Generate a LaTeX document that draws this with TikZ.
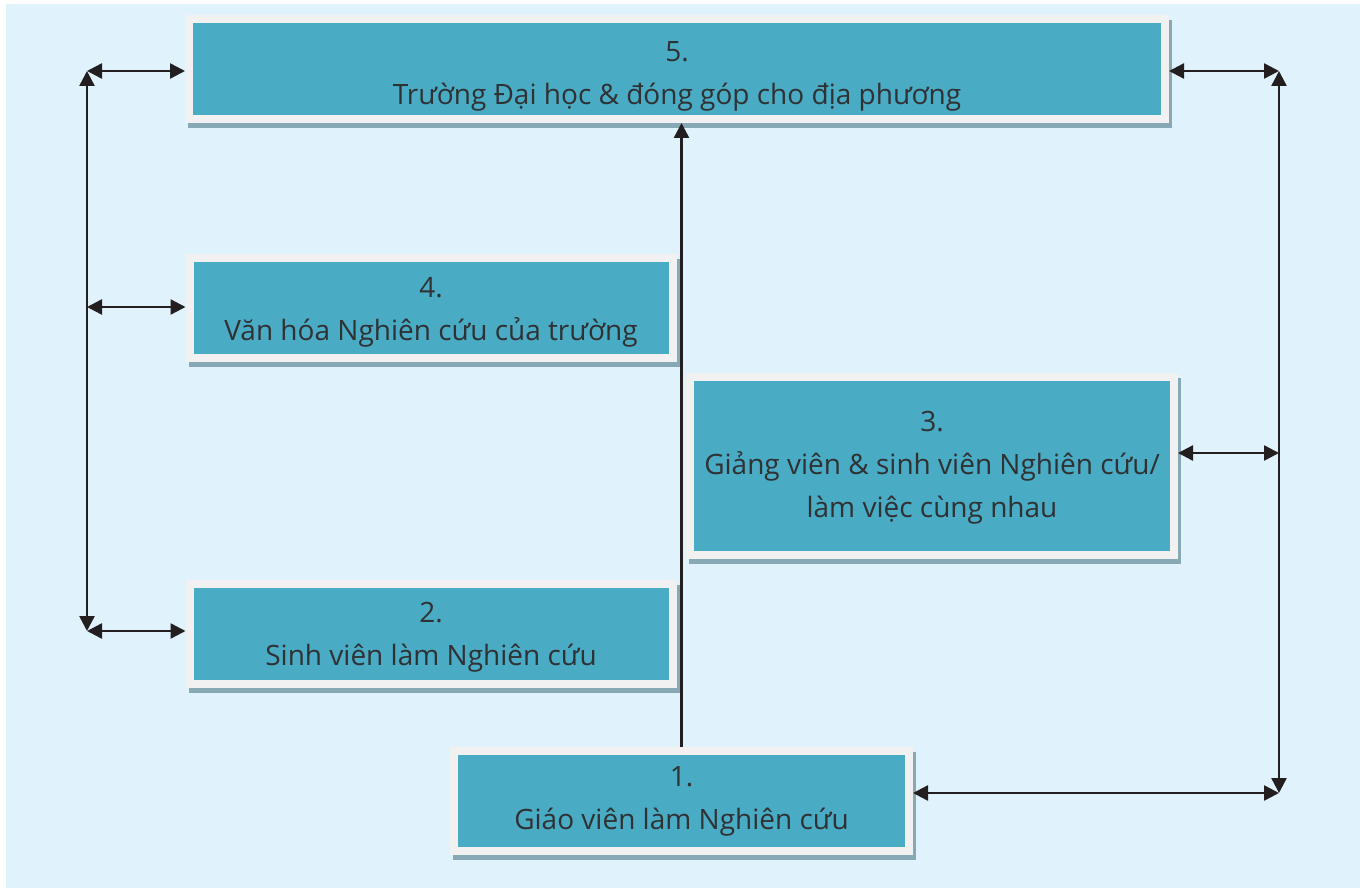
\documentclass[tikz,border=0pt]{standalone}
\usepackage{fontspec}
\setmainfont{Open Sans}
\usetikzlibrary{arrows.meta,shadows}
\definecolor{bgc}{HTML}{E0F2FC}
\definecolor{tealc}{HTML}{4AABC5}
\definecolor{framec}{HTML}{F1F1F1}
\definecolor{shadc}{HTML}{86A9B5}
\definecolor{ink}{HTML}{231F20}
\definecolor{txt}{HTML}{2F3133}
\begin{document}
\begin{tikzpicture}[x=1pt,y=-1pt,
  box/.style={fill=tealc, draw=framec, line width=8pt, inner sep=0pt, minimum height=100pt,
    general shadow={fill=shadc, draw=shadc, line width=8pt, shadow xshift=3pt, shadow yshift=-5pt}},
  lbl/.style={align=center, text=txt, font=\fontsize{28}{43}\selectfont, inner sep=0pt},
  link/.style={draw=ink, line width=2.5pt, arrows={Triangle[length=15pt,width=15pt]-Triangle[length=15pt,width=15pt]}},
  uplink/.style={draw=ink, line width=2.5pt, arrows={-Triangle[length=15pt,width=15pt]}}]
\useasboundingbox (0,0) rectangle (1363,888);
\fill[bgc] (6,4) rectangle (1360,888);

\node[box, minimum width=976pt] (b5) at (677,69) {};
\node[box, minimum width=483pt] (b4) at (431,308) {};
\node[box, minimum width=484pt, minimum height=178pt] (b3) at (932,466) {};
\node[box, minimum width=483pt] (b2) at (431,634) {};
\node[box, minimum width=455pt] (b1) at (681.5,801) {};

\node[lbl, yshift=-7pt] (t5) at (b5.center) {5.\\Trường Đại học \& đóng góp cho địa phương};
\node[lbl, yshift=-4pt] (t4) at (b4.center) {4.\\Văn hóa Nghiên cứu của trường};
\node[lbl, yshift=-2pt] (t3) at (b3.center) {3.\\Giảng viên \& sinh viên Nghiên cứu/\\làm việc cùng nhau};
\node[lbl, yshift=-3pt] (t2) at (b2.center) {2.\\Sinh viên làm Nghiên cứu};
\node[lbl, yshift=0pt] (t1) at (b1.center) {1.\\Giáo viên làm Nghiên cứu};

\coordinate (L5) at (87,71);
\coordinate (L4) at (87,307);
\coordinate (L2) at (87,631);
\coordinate (R5) at (1279,71);
\coordinate (R3) at (1279,453);
\coordinate (R1) at (1279,793);

\draw[link] (L5) -- (L2);
\draw[link] (L5) -- (L5 -| b5.west);
\draw[link] (L4) -- (L4 -| b4.west);
\draw[link] (L2) -- (L2 -| b2.west);

\draw[link] (R5) -- (R1);
\draw[link] (b5.east |- R5) -- (R5);
\draw[link] (b3.east |- R3) -- (R3);
\draw[link] (b1.east |- R1) -- (R1);

\draw[uplink] (b1.north) -- (b1.north |- b5.south);
\end{tikzpicture}
\end{document}
